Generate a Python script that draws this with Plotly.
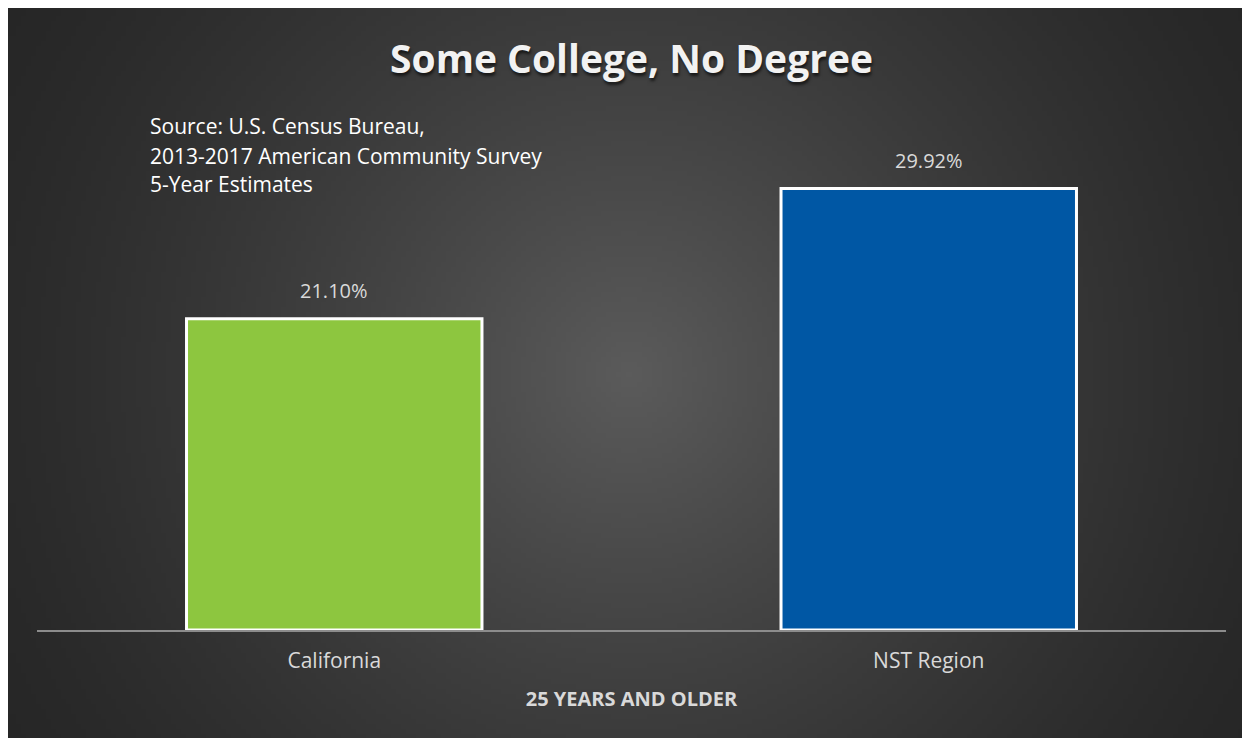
import base64, struct, zlib
import plotly.graph_objects as go

categories = ["California", "NST Region"]
values = [21.10, 29.92]
bar_colors = ["#8DC63F", "#0057A4"]
title_text = "Some College, No Degree"
source_lines = ["Source: U.S. Census Bureau,", "2013-2017 American Community Survey", "5-Year Estimates"]
x_title = "25 YEARS AND OLDER"

# ---- figure geometry (figure pixels; the page adds an ~8px offset) ----
W, H = 1262, 738
OX, OY = 7, 8
PL, PR = 36 - OX, 1225 - OX      # plot area left/right
PT, PB = 120 - OY, 630 - OY      # plot area top/bottom
pw, ph = PR - PL, PB - PT
ymax = ph / 14.755

def px_to_paper_x(px):
    return (px - OX - PL) / pw

def px_to_paper_y(py):
    return (PB - (py - OY)) / ph

# ---- radial gradient background as PNG ----
def make_png(w, h, cx, cy, scale):
    rows = []
    for j in range(h):
        row = bytearray([0])
        for i in range(w):
            r = (((i + 0.5) * scale - cx) ** 2 + ((j + 0.5) * scale - cy) ** 2) ** 0.5
            t = max(0.0, 1 - r / 730.0) ** 1.35
            v = int(round(0x26 + (0x5b - 0x26) * t))
            row += bytes([v, v, v])
        rows.append(bytes(row))
    raw = b"".join(rows)
    def chunk(tag, data):
        c = struct.pack(">I", len(data)) + tag + data
        return c + struct.pack(">I", zlib.crc32(tag + data) & 0xffffffff)
    png = b"\x89PNG\r\n\x1a\n"
    png += chunk(b"IHDR", struct.pack(">IIBBBBB", w, h, 8, 2, 0, 0, 0))
    png += chunk(b"IDAT", zlib.compress(raw, 9))
    png += chunk(b"IEND", b"")
    return "data:image/png;base64," + base64.b64encode(png).decode()

sc = 5
img = make_png(W // sc + 1, H // sc + 1, 628 - OX, 373 - OY, sc)

fig = go.Figure()
fig.add_trace(go.Bar(
    x=categories, y=values,
    marker=dict(color=bar_colors, line=dict(color="white", width=3)),
    width=0.497, hoverinfo="skip",
))

annotations = []
for c, v in zip(categories, values):
    annotations.append(dict(x=c, y=v, xref="x", yref="y", text=f"{v:.2f}%",
                            showarrow=False, yshift=28, yanchor="middle",
                            font=dict(family="Open Sans", size=20, color="#d9d9d9")))
annotations.append(dict(x=0.5, y=px_to_paper_y(57), xref="paper", yref="paper",
                        text=title_text, showarrow=False, yanchor="middle", xanchor="center",
                        font=dict(family="Open Sans", size=39, color="#f2f2f2", weight="bold",
                                  shadow="1px 3px 3px rgba(0,0,0,0.6)")))
for line, py in zip(source_lines, [126, 156, 184]):
    annotations.append(dict(x=px_to_paper_x(147), y=px_to_paper_y(py), xref="paper", yref="paper",
                            xanchor="left", yanchor="middle", text=line, showarrow=False,
                            font=dict(family="Open Sans", size=21, color="#ffffff")))

fig.update_layout(
    width=W, height=H,
    margin=dict(l=PL, r=W - PR, t=PT, b=H - PB, pad=0),
    paper_bgcolor="#262626", plot_bgcolor="rgba(0,0,0,0)",
    showlegend=False, bargap=0.5,
    images=[dict(source=img, xref="paper", yref="paper",
                 x=-PL / pw, y=1 + PT / ph,
                 sizex=(W + sc) / pw, sizey=(H + sc) / ph, sizing="stretch",
                 xanchor="left", yanchor="top", layer="below")],
    xaxis=dict(showline=True, linecolor="#8c8c8c", linewidth=2, ticks="",
               ticklabelstandoff=11,
               tickfont=dict(family="Open Sans", size=21, color="#d9d9d9"),
               title=dict(text=x_title, standoff=19,
                          font=dict(family="Open Sans", size=20, color="#d9d9d9", weight="bold")),
               fixedrange=True),
    yaxis=dict(visible=False, range=[0, ymax], fixedrange=True),
    annotations=annotations,
)

fig.write_html(
    "out.html",
    post_script="document.documentElement.style.overflow='hidden';document.body.style.overflow='hidden';",
)
